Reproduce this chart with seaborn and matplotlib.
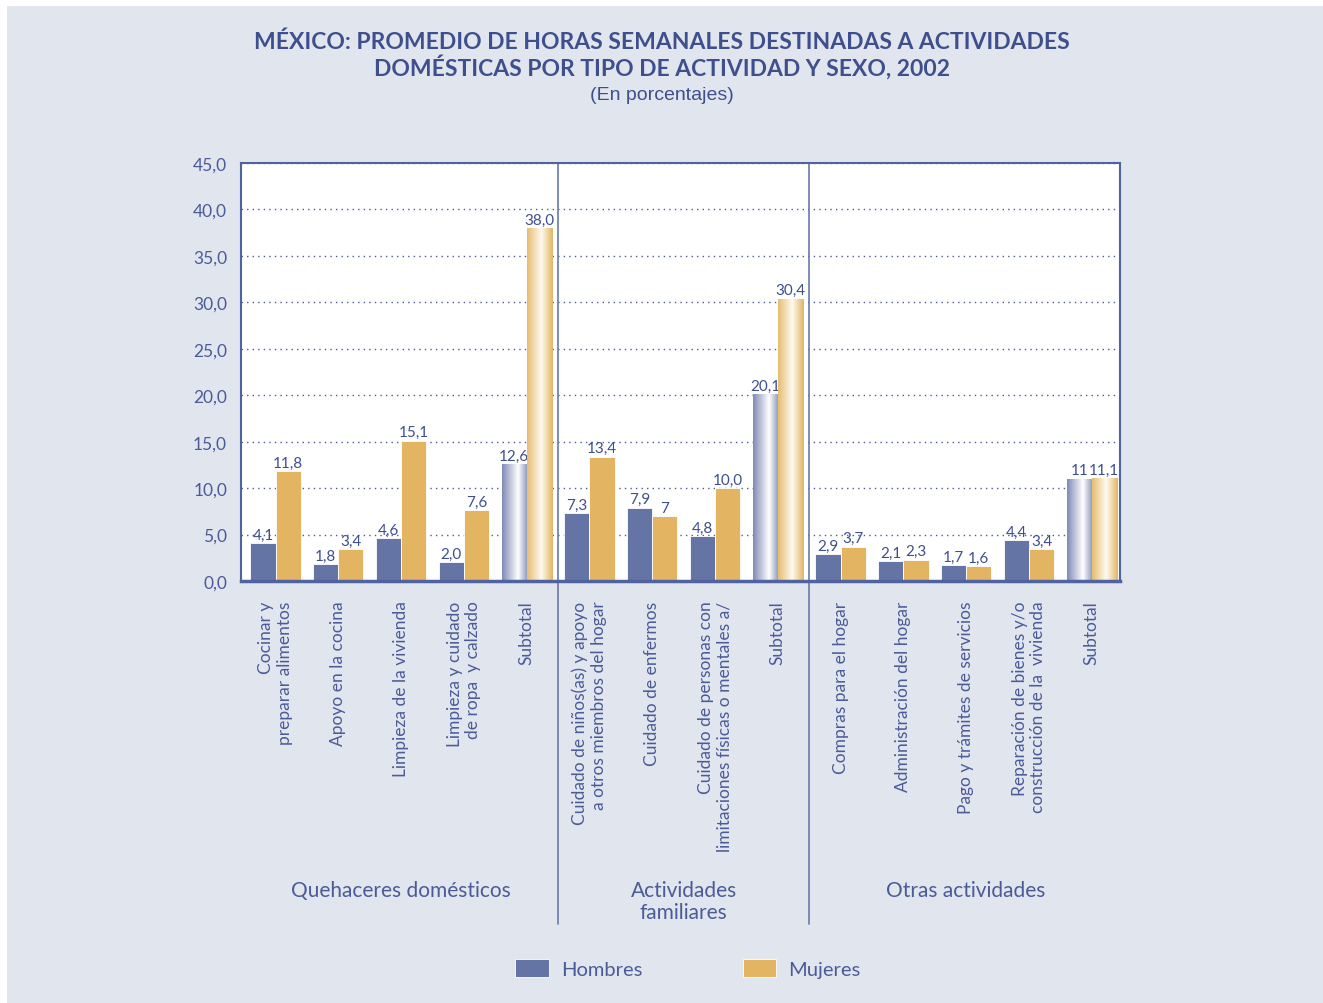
import numpy as np
import pandas as pd
import matplotlib.pyplot as plt
import matplotlib.transforms as mtransforms
from matplotlib.patches import Rectangle
from matplotlib.colors import LinearSegmentedColormap
import seaborn as sns

sns.set_theme(style="white")
plt.rcParams['font.family'] = ['Lato', 'DejaVu Sans']

# Datos
actividades = [
    "Cocinar y\npreparar alimentos",
    "Apoyo en la cocina",
    "Limpieza de la vivienda",
    "Limpieza y cuidado\nde ropa  y calzado",
    "Subtotal",
    "Cuidado de niños(as) y apoyo\na otros miembros del hogar",
    "Cuidado de enfermos",
    "Cuidado de personas con\nlimitaciones físicas o mentales a/",
    "Subtotal",
    "Compras para el hogar",
    "Administración del hogar",
    "Pago y trámites de servicios",
    "Reparación de bienes y/o\nconstrucción de la  vivienda",
    "Subtotal",
]
grupos = ["Quehaceres domésticos"] * 5 + ["Actividades\nfamiliares"] * 4 + ["Otras actividades"] * 5
hombres = [4.1, 1.8, 4.6, 2.0, 12.6, 7.3, 7.9, 4.8, 20.1, 2.9, 2.1, 1.7, 4.4, 11.0]
mujeres = [11.8, 3.4, 15.1, 7.6, 38.0, 13.4, 7.0, 10.0, 30.4, 3.7, 2.3, 1.6, 3.4, 11.1]
etiquetas_h = ["4,1", "1,8", "4,6", "2,0", "12,6", "7,3", "7,9", "4,8", "20,1", "2,9", "2,1", "1,7", "4,4", "11"]
etiquetas_m = ["11,8", "3,4", "15,1", "7,6", "38,0", "13,4", "7", "10,0", "30,4", "3,7", "2,3", "1,6", "3,4", "11,1"]
y_ticks = [0, 5, 10, 15, 20, 25, 30, 35, 40, 45]

AZUL = "#6374a5"
ORO = "#e3b563"
TEXTO = "#3f4f8e"
EJE = "#5062a0"

claves = [str(i) for i in range(len(actividades))]
df = pd.DataFrame({
    "clave": claves * 2,
    "Sexo": ["Hombres"] * len(claves) + ["Mujeres"] * len(claves),
    "horas": hombres + mujeres,
})

W, H = 1323, 1004
fig = plt.figure(figsize=(W / 100, H / 100), dpi=100)
fig.patch.set_facecolor("white")
fig.patches.append(Rectangle((7 / W, 0), 1 - 7 / W, 1 - 7 / H, transform=fig.transFigure,
                             facecolor="#e1e5ee", edgecolor="none", zorder=-10))

ax = fig.add_axes([241 / W, 1 - 582 / H, (1120 - 241) / W, (582 - 164) / H])
ax.set_facecolor("white")

sns.barplot(data=df, x="clave", y="horas", hue="Sexo", order=claves,
            hue_order=["Hombres", "Mujeres"], palette={"Hombres": AZUL, "Mujeres": ORO},
            width=0.8, saturation=1, edgecolor="white", linewidth=0.6, ax=ax, zorder=3)

# Degradado en los subtotales
grad_h = LinearSegmentedColormap.from_list("gh", [(0, "#7d8ab4"), (0.62, "#ffffff"), (1, "#8692ba")])
grad_m = LinearSegmentedColormap.from_list("gm", [(0, "#e6bc70"), (0.55, "#fffaf0"), (1, "#e3b563")])
subtotales = [i for i, a in enumerate(actividades) if a == "Subtotal"]
grad = np.linspace(0, 1, 256).reshape(1, -1)
for cont, cmap in zip(ax.containers, [grad_h, grad_m]):
    for i in subtotales:
        bar = cont[i]
        x0, w, h = bar.get_x(), bar.get_width(), bar.get_height()
        im = ax.imshow(grad, cmap=cmap, extent=[x0, x0 + w, 0, h], aspect="auto", zorder=4)
        im.set_clip_path(bar)

for cont, labs in zip(ax.containers, [etiquetas_h, etiquetas_m]):
    ax.bar_label(cont, labels=labs, padding=1, fontsize=11, color=TEXTO)

ax.set_xlim(-0.55, len(claves) - 0.55)
ax.set_ylim(0, 45)
ax.set_yticks(y_ticks)
ax.set_yticklabels([f"{v:.1f}".replace(".", ",") for v in y_ticks], fontsize=12.5, color="#4b5b98")
ax.set_xticks(range(len(claves)))
ax.set_xticklabels(actividades, rotation=90, va="top", ha="center", multialignment="right",
                   fontsize=12.5, color="#4b5b98")
ax.tick_params(axis="both", length=0)
ax.tick_params(axis="y", pad=10)
ax.tick_params(axis="x", pad=14)
ax.set_xlabel("")
ax.set_ylabel("")
ax.yaxis.grid(True, linestyle=(0, (1, 3)), color="#4a5a9a", linewidth=1, zorder=0)
ax.set_axisbelow(True)
for s in ax.spines.values():
    s.set_color(EJE)
    s.set_linewidth(1.5)
    s.set_zorder(6)
ax.spines["bottom"].set_linewidth(2.5)

# Separadores y nombres de grupo
trans = mtransforms.blended_transform_factory(ax.transData, ax.transAxes)
nombres = list(dict.fromkeys(grupos))
for k, g in enumerate(nombres):
    idx = [i for i, gg in enumerate(grupos) if gg == g]
    ax.text(np.mean(idx), -0.715, g, transform=trans, ha="center", va="top",
            fontsize=15, color="#4b5b98", linespacing=1.15)
    if k < len(nombres) - 1:
        ax.plot([idx[-1] + 0.5] * 2, [1, -0.82], transform=trans, clip_on=False,
                color="#6a79aa", linewidth=1.2)

handles, labels = ax.get_legend_handles_labels()
ax.get_legend().remove()
fig.legend(handles, labels, loc="center", bbox_to_anchor=(0.52, 0.034), ncol=2, frameon=False,
           fontsize=14.5, handlelength=1.65, handleheight=1.0, handletextpad=0.6,
           columnspacing=5.0, labelcolor="#4b5b98")

fig.text(0.5, 1 - 42 / H, "MÉXICO: PROMEDIO DE HORAS SEMANALES DESTINADAS A ACTIVIDADES",
         ha="center", va="center", fontsize=16.5, fontweight="bold", color=TEXTO)
fig.text(0.5, 1 - 67 / H, "DOMÉSTICAS POR TIPO DE ACTIVIDAD Y SEXO, 2002",
         ha="center", va="center", fontsize=16.5, fontweight="bold", color=TEXTO)
fig.text(0.5, 1 - 95 / H, "(En porcentajes)", ha="center", va="center", fontsize=14,
         color=TEXTO, family=["Liberation Sans", "DejaVu Sans"])

fig.savefig("out.png", dpi=100, facecolor=fig.get_facecolor())
